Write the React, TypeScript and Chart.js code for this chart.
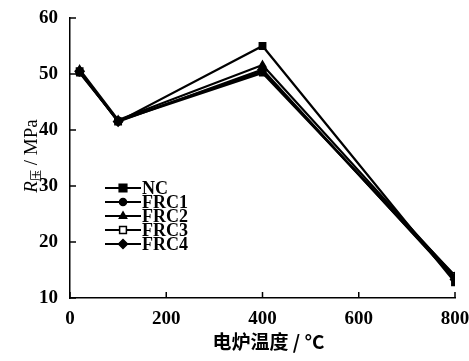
import React, { useEffect, useRef } from "react";
import { Chart, registerables } from "chart.js";
Chart.register(...registerables);

const temps = [20, 100, 400, 800];
const seriesNames = ["NC", "FRC1", "FRC2", "FRC3", "FRC4"];
const nc = [50.5, 41.5, 55.0, 12.8];
const frc1 = [50.3, 41.7, 50.5, 13.5];
const frc2 = [50.8, 41.8, 51.6, 13.8];
const frc3 = [50.2, 41.6, 50.2, 14.0];
const frc4 = [50.5, 41.5, 50.8, 13.3];
const xTicks = [0, 200, 400, 600, 800];
const yTicks = [10, 20, 30, 40, 50, 60];
const xTitle = "电炉温度 / °C";
const yTitleMain = "R";
const yTitleSub = "压";
const yTitleRest = " / MPa";

const styles: any[] = [
  { pointStyle: "rect", radius: 4.5, fill: "#000" },
  { pointStyle: "circle", radius: 3.5, fill: "#000" },
  { pointStyle: "triangle", radius: 4, fill: "#000" },
  { pointStyle: "rect", radius: 4, fill: "#fff" },
  { pointStyle: "rectRot", radius: 4.5, fill: "#000" },
];

const SERIF = "'Liberation Serif', 'DejaVu Serif', serif";
const CJK = "'Noto Sans CJK SC', sans-serif";

function drawPointFn(ctx: any, s: any, x: number, y: number) {
  ctx.save();
  ctx.fillStyle = s.fill;
  ctx.strokeStyle = "#000";
  ctx.lineWidth = 1.5;
  const r = s.radius;
  ctx.beginPath();
  if (s.pointStyle === "rect") {
    const h = r * Math.SQRT1_2 * 1.2;
    ctx.rect(x - h, y - h, 2 * h, 2 * h);
  } else if (s.pointStyle === "circle") {
    ctx.arc(x, y, r, 0, Math.PI * 2);
  } else if (s.pointStyle === "triangle") {
    ctx.moveTo(x, y - r);
    ctx.lineTo(x + r * 0.9, y + r * 0.55);
    ctx.lineTo(x - r * 0.9, y + r * 0.55);
    ctx.closePath();
  } else {
    ctx.moveTo(x, y - r);
    ctx.lineTo(x + r, y);
    ctx.lineTo(x, y + r);
    ctx.lineTo(x - r, y);
    ctx.closePath();
  }
  ctx.fill();
  ctx.stroke();
  ctx.restore();
}

const decorPlugin = {
  id: "decor",
  afterDraw(chart: any) {
    const ctx = chart.ctx;
    const xs = chart.scales.x;
    const ys = chart.scales.y;
    const ca = chart.chartArea;
    ctx.save();
    ctx.strokeStyle = "#000";
    ctx.lineWidth = 1.5;
    for (const t of xTicks) {
      const px = xs.getPixelForValue(t);
      ctx.beginPath();
      ctx.moveTo(px, ca.bottom);
      ctx.lineTo(px, ca.bottom - 6);
      ctx.stroke();
    }
    for (const t of yTicks) {
      const py = ys.getPixelForValue(t);
      ctx.beginPath();
      ctx.moveTo(ca.left, py);
      ctx.lineTo(ca.left + 6, py);
      ctx.stroke();
    }
    ctx.fillStyle = "#000";
    ctx.font = `bold 19px ${CJK}`;
    ctx.textAlign = "center";
    ctx.textBaseline = "middle";
    ctx.fillText(xTitle, (ca.left + ca.right) / 2 + 6, 342);
    ctx.save();
    ctx.translate(32, 156);
    ctx.rotate(-Math.PI / 2);
    ctx.textBaseline = "middle";
    ctx.textAlign = "left";
    ctx.font = `italic 19px ${SERIF}`;
    const wR = ctx.measureText(yTitleMain).width;
    ctx.font = `11px ${CJK}`;
    const wS = ctx.measureText(yTitleSub).width;
    ctx.font = `19px ${SERIF}`;
    const wRest = ctx.measureText(yTitleRest).width;
    let x0 = -(wR + wS + wRest) / 2;
    ctx.font = `italic 19px ${SERIF}`;
    ctx.fillText(yTitleMain, x0, 0);
    x0 += wR;
    ctx.font = `11px ${CJK}`;
    ctx.fillText(yTitleSub, x0, 4);
    x0 += wS;
    ctx.font = `19px ${SERIF}`;
    ctx.fillText(yTitleRest, x0, 0);
    ctx.restore();
    const lx0 = 105, lx1 = 141, ty0 = 188, dy = 14;
    seriesNames.forEach((name, i) => {
      const y = ty0 + i * dy;
      ctx.strokeStyle = "#000";
      ctx.lineWidth = 2;
      ctx.beginPath();
      ctx.moveTo(lx0, y);
      ctx.lineTo(lx1, y);
      ctx.stroke();
      drawPointFn(ctx, styles[i], (lx0 + lx1) / 2, y);
      ctx.fillStyle = "#000";
      ctx.font = `bold 18px ${SERIF}`;
      ctx.textAlign = "left";
      ctx.textBaseline = "middle";
      ctx.fillText(name, lx1 + 1, y + 1);
    });
    ctx.restore();
  },
};

export default function App() {
  const ref = useRef<HTMLCanvasElement | null>(null);
  useEffect(() => {
    if (!ref.current) return;
    const all = [nc, frc1, frc2, frc3, frc4];
    const chart = new Chart(ref.current, {
      type: "line",
      data: {
        datasets: all.map((vals, i) => ({
          label: seriesNames[i],
          data: vals.map((v, j) => ({ x: temps[j], y: v })),
          borderColor: "#000",
          borderWidth: 2.2,
          backgroundColor: styles[i].fill,
          pointBackgroundColor: styles[i].fill,
          pointBorderColor: "#000",
          pointBorderWidth: 1.5,
          pointStyle: styles[i].pointStyle,
          pointRadius: styles[i].radius,
          tension: 0,
        })),
      },
      options: {
        animation: false,
        responsive: false,
        maintainAspectRatio: false,
        layout: { padding: { left: 0, right: 14, top: 18, bottom: 0 } },
        plugins: { legend: { display: false }, tooltip: { enabled: false } },
        scales: {
          x: {
            type: "linear",
            min: 0,
            max: 800,
            afterFit: (s: any) => { s.height = 63; s.paddingLeft = 0; s.paddingRight = 0; },
            afterBuildTicks: (s: any) => { s.ticks = xTicks.map((v) => ({ value: v })); },
            grid: { display: false, drawTicks: false },
            border: { display: true, color: "#000", width: 1.5 },
            ticks: {
              color: "#000",
              padding: 10,
              maxRotation: 0,
              font: { family: SERIF, size: 19, weight: "bold" },
            },
          },
          y: {
            type: "linear",
            min: 10,
            max: 60,
            afterFit: (s: any) => { s.width = 70; s.paddingTop = 0; s.paddingBottom = 0; },
            afterBuildTicks: (s: any) => { s.ticks = yTicks.map((v) => ({ value: v })); },
            grid: { display: false, drawTicks: false },
            border: { display: true, color: "#000", width: 1.5 },
            ticks: {
              color: "#000",
              padding: 12,
              font: { family: SERIF, size: 19, weight: "bold" },
            },
          },
        },
      } as any,
      plugins: [decorPlugin],
    });
    return () => chart.destroy();
  }, []);
  return (
    <div style={{ position: "fixed", left: 0, top: 0, width: 469, height: 361, background: "#fff" }}>
      <canvas ref={ref} width={469} height={361} style={{ width: 469, height: 361 }} />
    </div>
  );
}
